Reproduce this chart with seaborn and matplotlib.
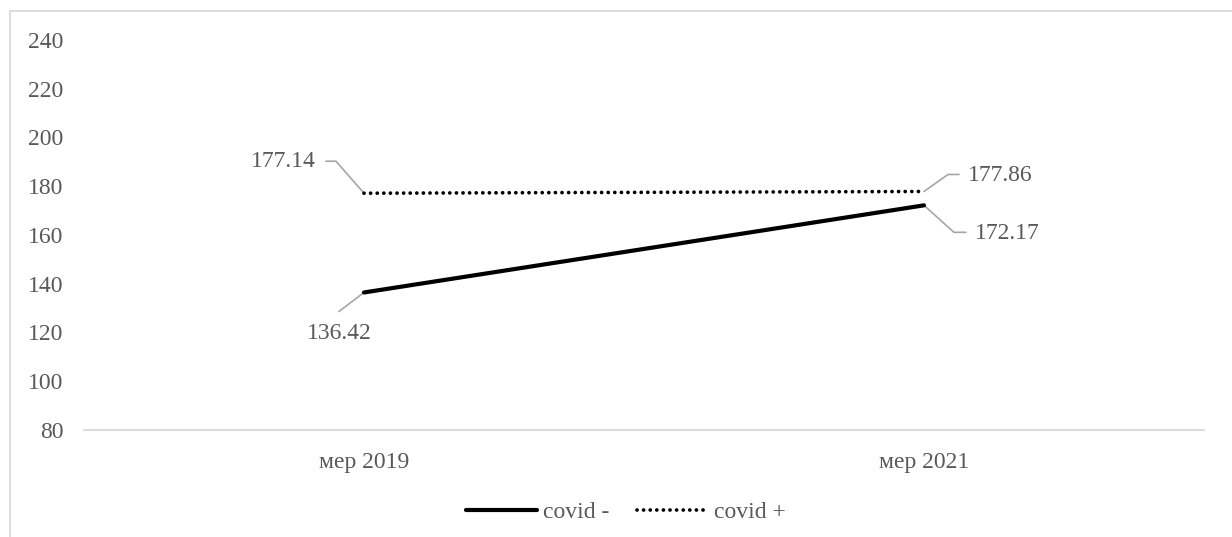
import matplotlib
matplotlib.use("Agg")
import matplotlib.pyplot as plt
import matplotlib.patches as mpatches
from matplotlib.lines import Line2D
import seaborn as sns
import pandas as pd

# Data
periods = ["мер 2019", "мер 2021"]
covid_neg = [136.42, 172.17]
covid_pos = [177.14, 177.86]
series_names = ["covid -", "covid +"]
y_ticks = [80, 100, 120, 140, 160, 180, 200, 220, 240]

sns.set_theme(style="white")
plt.rcParams["font.family"] = ["Liberation Serif", "DejaVu Serif"]

TXT = "#595959"
LEAD = "#A6A6A6"
FS = 17
DOTS = (0, (0.01, 1.75))

W, H = 1232, 537
fig = plt.figure(figsize=(W / 100, H / 100), dpi=100)
ax = fig.add_axes([84 / W, (H - 430) / H, 1120 / W, 390 / H])

df = pd.DataFrame({
    "period": periods * 2,
    "value": covid_neg + covid_pos,
    "series": [series_names[0]] * 2 + [series_names[1]] * 2,
})

sns.lineplot(data=df[df.series == series_names[0]], x="period", y="value",
             color="black", lw=3.0, solid_capstyle="round", ax=ax, legend=False)
sns.lineplot(data=df[df.series == series_names[1]], x="period", y="value",
             color="black", lw=2.7, dash_capstyle="round",
             linestyle=DOTS, ax=ax, legend=False)

ax.set_xlim(-0.5, 1.5)
ax.set_ylim(80, 240)
ax.set_yticks(y_ticks)
ax.set_xlabel("")
ax.set_ylabel("")
ax.tick_params(axis="both", length=0, labelsize=FS, labelcolor=TXT)
ax.tick_params(axis="y", pad=15)
ax.tick_params(axis="x", pad=16)
for s in ["top", "right", "left"]:
    ax.spines[s].set_visible(False)
ax.spines["bottom"].set_color("#D9D9D9")
ax.spines["bottom"].set_linewidth(1.3)


def data_label(xi, y, text, pts, text_off, ha):
    # pts: leader-line vertices as pixel offsets from the data point
    px, py = ax.transData.transform((xi, y))
    inv = ax.transData.inverted()
    data_pts = [inv.transform((px + dx, py - dy)) for dx, dy in pts]
    ax.plot([p[0] for p in data_pts], [p[1] for p in data_pts],
            color=LEAD, lw=1.2, zorder=1, clip_on=False)
    tx, ty = inv.transform((px + text_off[0], py - text_off[1]))
    ax.text(tx, ty, text, fontsize=FS, color=TXT, ha=ha, va="center")


fig.canvas.draw()
data_label(0, covid_pos[0], f"{covid_pos[0]:.2f}",
           [(0, 0), (-28, -32), (-38, -32)], (-48, -32), "right")
data_label(0, covid_neg[0], f"{covid_neg[0]:.2f}",
           [(0, 0), (-25, 19)], (-25, 41), "center")
data_label(1, covid_pos[1], f"{covid_pos[1]:.2f}",
           [(0, 0), (24, -17), (35, -17)], (44, -16), "left")
data_label(1, covid_neg[1], f"{covid_neg[1]:.2f}",
           [(0, 0), (30, 27), (42, 27)], (51, 28), "left")

# Legend
handles = [
    Line2D([], [], color="black", lw=3.0, solid_capstyle="round"),
    Line2D([], [], color="black", lw=2.7, dash_capstyle="round",
           linestyle=DOTS),
]
leg = fig.legend(handles, series_names, loc="center", ncol=2,
                 bbox_to_anchor=(626 / W, 25 / H), frameon=False,
                 fontsize=FS, handlelength=3.0, handletextpad=0.25,
                 columnspacing=1.2)
for t in leg.get_texts():
    t.set_color(TXT)

# Chart area border
fig.patches.append(mpatches.Rectangle((10 / W, -0.2), 1.2, (H - 10.5) / H + 0.2,
                                      transform=fig.transFigure, fill=False,
                                      edgecolor="#D9D9D9", lw=1.3))

fig.savefig("out.png", dpi=100)
